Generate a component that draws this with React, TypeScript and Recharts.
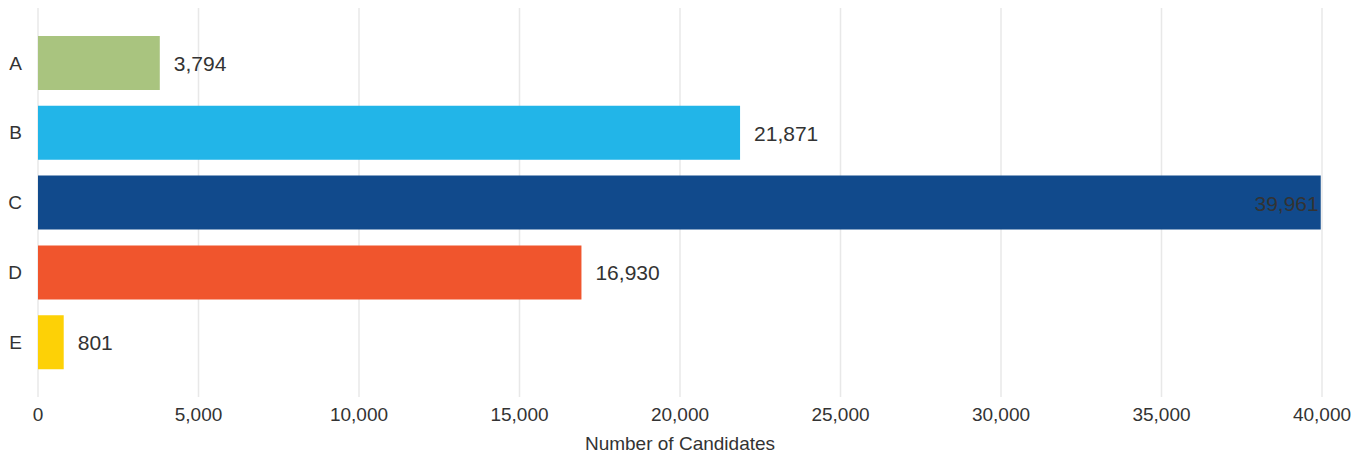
import React from 'react';
import { BarChart, Bar, XAxis, YAxis, CartesianGrid, Cell, LabelList } from 'recharts';

const categories = ['A', 'B', 'C', 'D', 'E'];
const values = [3794, 21871, 39961, 16930, 801];
const colors = ['#A9C47F', '#22B5E8', '#114A8C', '#F0552D', '#FDD106'];
const xTicks = [0, 5000, 10000, 15000, 20000, 25000, 30000, 35000, 40000];

const data = categories.map((c, i) => ({ name: c, value: values[i] }));

const fmt = (v: number) => v.toLocaleString('en-US');
const FONT = '"Liberation Sans", Arial, Helvetica, sans-serif';

const renderLabel = (props: any) => {
  const { x, y, width, height, value } = props;
  const inside = value > 35000;
  const tx = inside ? x + width - 2 : x + width + 14;
  return (
    <text
      x={tx}
      y={y + height / 2}
      dy={8}
      textAnchor={inside ? 'end' : 'start'}
      fill="#333333"
      fontSize={21}
      fontFamily={FONT}
    >
      {fmt(value)}
    </text>
  );
};

export default function App() {
  return (
    <div style={{ width: 1352, height: 449, fontFamily: FONT }}>
      <BarChart
        width={1352}
        height={449}
        data={data}
        layout="vertical"
        margin={{ top: 0, right: 38, bottom: 0, left: 0 }}
      >
        <CartesianGrid horizontal={false} stroke="#e8e8e8" strokeWidth={1.5} />
        <XAxis
          type="number"
          domain={[0, 40000]}
          ticks={xTicks}
          tickFormatter={fmt}
          axisLine={false}
          tickLine={false}
          tickSize={0}
          tickMargin={11}
          height={60}
          tick={{ fill: '#333333', fontSize: 19, fontFamily: FONT }}
          interval={0}
          label={{
            value: 'Number of Candidates',
            position: 'insideBottom',
            offset: 7,
            fill: '#333333',
            fontSize: 19,
            fontFamily: FONT,
          }}
        />
        <YAxis
          type="category"
          dataKey="name"
          width={30}
          axisLine={false}
          tickLine={false}
          tickSize={0}
          tickMargin={16}
          padding={{ top: 20, bottom: 20 }}
          tick={{ fill: '#333333', fontSize: 19, fontFamily: FONT }}
        />
        <Bar dataKey="value" barSize={54} isAnimationActive={false}>
          {data.map((d, i) => (
            <Cell key={d.name} fill={colors[i]} />
          ))}
          <LabelList dataKey="value" content={renderLabel} />
        </Bar>
      </BarChart>
    </div>
  );
}
